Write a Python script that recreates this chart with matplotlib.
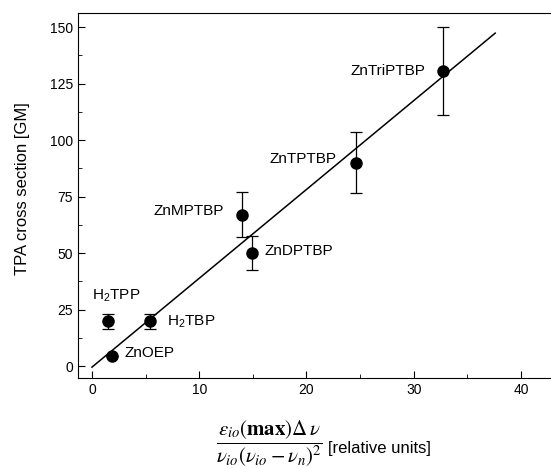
import matplotlib
matplotlib.use('Agg')
import matplotlib.pyplot as plt
from matplotlib.ticker import MultipleLocator

plt.rcParams['font.family'] = ['Liberation Sans', 'DejaVu Sans']

# data
names = ['H$_\\mathregular{2}$TPP', 'H$_\\mathregular{2}$TBP', 'ZnOEP', 'ZnMPTBP',
         'ZnDPTBP', 'ZnTPTBP', 'ZnTriPTBP']
x_vals = [1.5, 5.4, 1.9, 14.0, 14.9, 24.6, 32.7]
y_vals = [19.8, 19.8, 4.3, 67.0, 50.0, 90.0, 130.5]
y_err = [3.3, 3.3, 0.0, 10.0, 7.6, 13.5, 19.6]

# label anchor points and alignment
label_x = [0.0, 7.0, 3.0, 12.3, 16.1, 22.8, 31.1]
label_y = [31.2, 19.8, 5.6, 68.4, 51.0, 91.7, 130.5]
label_ha = ['left', 'left', 'left', 'right', 'left', 'right', 'right']

# linear fit line
fit_x = [0.0, 37.6]
fit_y = [-0.5, 147.3]

fig = plt.figure(figsize=(5.51, 4.68), dpi=100)
ax = fig.add_axes([78 / 551, 1 - 378 / 468, 1 - 78 / 551, (378 - 13) / 468])

ax.plot(fit_x, fit_y, color='black', lw=1.1)
ax.errorbar(x_vals, y_vals, yerr=y_err, fmt='o', color='black', ms=8,
            ecolor='black', elinewidth=0.9, capsize=4.5, capthick=0.9)

for n, lx, ly, ha in zip(names, label_x, label_y, label_ha):
    ax.text(lx, ly, n, ha=ha, va='center', fontsize=11)

ax.set_xlim(-1.3, 42.8)
ax.set_ylim(-5.3, 156.2)
ax.xaxis.set_major_locator(MultipleLocator(10))
ax.xaxis.set_minor_locator(MultipleLocator(5))
ax.yaxis.set_major_locator(MultipleLocator(25))
ax.yaxis.set_minor_locator(MultipleLocator(12.5))
ax.tick_params(which='both', direction='in', labelsize=10)
ax.tick_params(which='major', length=5)
ax.tick_params(which='minor', length=3)
ax.spines['right'].set_visible(False)

fig.text(23 / 551, 1 - 189 / 468, 'TPA cross section [GM]', rotation=90,
         ha='center', va='center', fontsize=12)

frac = (r'$\dfrac{\varepsilon_{io}(\mathbf{max})\Delta\,\nu}'
        r'{\nu_{io}(\nu_{io}-\nu_{n})^{2}}$')
fig.text(323 / 551, 1 - 444 / 468, frac, ha='right', va='center',
         fontsize=15, math_fontfamily='stix')
fig.text(328 / 551, 1 - 448 / 468, '[relative units]', ha='left', va='center',
         fontsize=12)

fig.savefig('out.png', dpi=100)
